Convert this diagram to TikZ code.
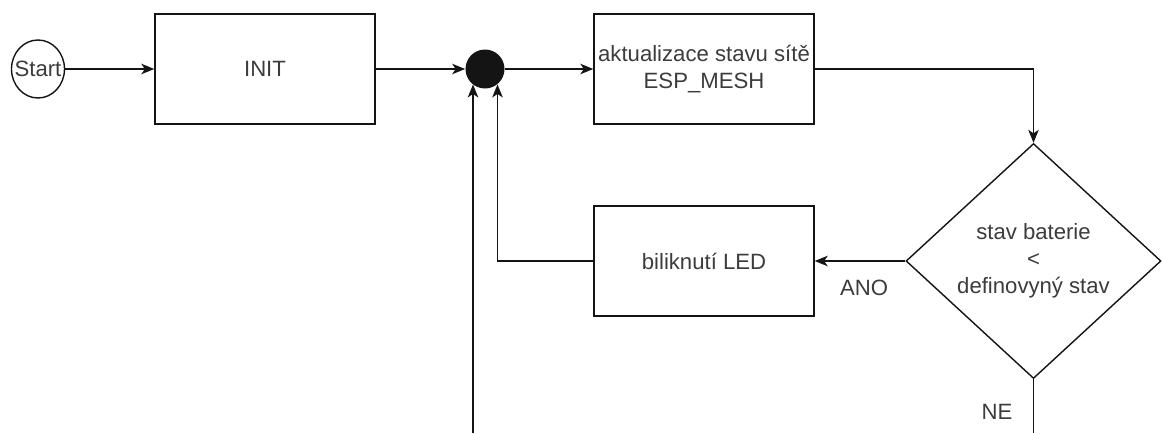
\documentclass[tikz,border=0pt]{standalone}
\usepackage{fontspec}
\setmainfont{Liberation Sans}
\usetikzlibrary{arrows.meta,shapes.geometric}
\definecolor{flowink}{HTML}{141414}
\definecolor{flowtext}{HTML}{3C3C3C}

\begin{document}
\begin{tikzpicture}[
  font=\fontsize{12.6}{15.4}\selectfont,
  box/.style={draw=flowink, fill=white, text=flowtext, line width=0.8pt,
    minimum width=4.4cm, minimum height=2.2cm, align=center, inner sep=0pt},
  terminal/.style={ellipse, draw=flowink, line width=0.8pt, fill=white,
    minimum width=1.06cm, minimum height=1.16cm, inner sep=0pt},
  junction/.style={circle, fill=flowink, minimum size=0.78cm, inner sep=0pt},
  decision/.style={diamond, draw=flowink, fill=white, text=flowtext, line width=0.8pt,
    minimum width=5.1cm, minimum height=4.7cm, align=center, inner sep=0pt},
  flow/.style={draw=flowink, line width=0.8pt, -{Stealth[length=2.6mm,width=2.1mm,inset=0.7mm]}},
  link/.style={draw=flowink, line width=0.8pt},
  tag/.style={text=flowtext},
]
\useasboundingbox (0,0) rectangle (23.24,-8.66);

% ===== top row =====
\node[terminal, label={[text=flowtext]center:Start}] (start) at (0.76,-1.38) {};
\node[box] (init) at (5.30,-1.38) {INIT};
\node[junction] (merge) at (9.70,-1.38) {};
\node[box] (mesh) at (14.08,-1.38) {aktualizace stavu sítě\\ESP\_MESH};

\draw[flow] (start) -- (init);
\draw[flow] (init) -- (merge);
\draw[flow] (merge) -- (mesh);

% ===== battery check =====
\node[decision] (battery) at (20.67,-5.22) {stav baterie\\<\\definovyný stav};
\node[box] (blink) at (14.08,-5.22) {biliknutí LED};

\draw[flow] (mesh.east) -| (battery.north);
\draw[flow] (battery.west) -- (blink.east);
\node[tag] (ano) at (17.28,-5.76) {ANO};
\draw[flow] (blink.west) -| (merge.-51);

% ===== loose ends (cut at the bottom) =====
\coordinate (loopback) at (9.46,-8.66);
\coordinate (neout) at (battery.south |- 0,-8.66);
\draw[flow] (loopback) -- (loopback |- merge.-129);
\draw[link] (battery.south) -- (neout);
\node[tag] (ne) at (19.94,-8.24) {NE};

\end{tikzpicture}
\end{document}
